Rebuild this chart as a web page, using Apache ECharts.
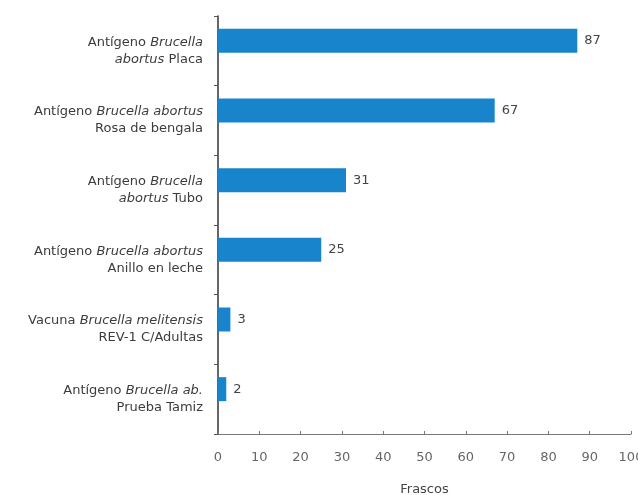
<!DOCTYPE html>
<html><head><meta charset="utf-8">
<script src="https://cdn.jsdelivr.net/npm/echarts@6/dist/echarts.min.js"></script>
<style>html,body{margin:0;padding:0;background:#fff}#c{width:638px;height:495px}</style>
</head><body><div id="c"></div>
<script>
// Category labels: each line is a list of [text, italic?]
var categories = [
  [[['Antígeno ',0],['Brucella',1]], [['abortus',1],[' Placa',0]]],
  [[['Antígeno ',0],['Brucella abortus',1]], [['Rosa de bengala',0]]],
  [[['Antígeno ',0],['Brucella',1]], [['abortus',1],[' Tubo',0]]],
  [[['Antígeno ',0],['Brucella abortus',1]], [['Anillo en leche',0]]],
  [[['Vacuna ',0],['Brucella melitensis',1]], [['REV-1 C/Adultas',0]]],
  [[['Antígeno ',0],['Brucella ab.',1]], [['Prueba Tamiz',0]]]
];
var values = [87, 67, 31, 25, 3, 2];
var xTicks = [0, 10, 20, 30, 40, 50, 60, 70, 80, 90, 100];

var catNames = categories.map(function(c, i){ return 'c' + i; });
function fmtLabel(v){
  var idx = catNames.indexOf(v);
  var cat = categories[idx];
  return cat.map(function(line){
    return line.map(function(p){
      var t = p[0].replace(/\s/g, '\u00a0');
      return '{' + (p[1] ? 'i' : 'n') + '|' + t + '}';
    }).join('');
  }).join('\n');
}
var FONT = 'DejaVu Sans';
var chart = echarts.init(document.getElementById('c'));
chart.setOption({
  animation: false,
  grid: {left: 218, right: 7, top: 16, bottom: 61, containLabel: false, outerBoundsMode: 'none'},
  xAxis: {
    type: 'value', min: xTicks[0], max: xTicks[xTicks.length-1], interval: 10,
    name: 'Frascos', nameLocation: 'middle', nameGap: 49,
    nameTextStyle: {color: '#444', fontSize: 13, fontFamily: FONT},
    axisLine: {show: true, lineStyle: {color: '#777', width: 1}},
    axisTick: {show: true, inside: true, length: 3, lineStyle: {color: '#777'}},
    axisLabel: {color: '#666', fontSize: 13, fontFamily: FONT, margin: 17},
    splitLine: {show: false}
  },
  yAxis: {
    type: 'category', inverse: true, data: catNames,
    axisLine: {show: true, lineStyle: {color: '#333', width: 1.5}},
    axisTick: {show: true, length: 4, lineStyle: {color: '#555'}},
    axisLabel: {
      margin: 15, formatter: fmtLabel, align: 'right',
      rich: {
        n: {fontSize: 13, color: '#3c3c3c', fontFamily: FONT, lineHeight: 17},
        i: {fontSize: 13, color: '#3c3c3c', fontFamily: FONT, fontStyle: 'italic', lineHeight: 17}
      }
    }
  },
  series: [
    {type: 'bar', data: values, barWidth: 24, barGap: 0,
     itemStyle: {color: '#1784cc'},
     label: {show: true, position: 'right', distance: 7, color: '#444', fontSize: 13, fontFamily: FONT}},
    {type: 'bar', data: values.map(function(){ return 0; }), barWidth: 20, barGap: 0,
     itemStyle: {color: 'rgba(0,0,0,0)'}, silent: true}
  ]
});
</script></body></html>
